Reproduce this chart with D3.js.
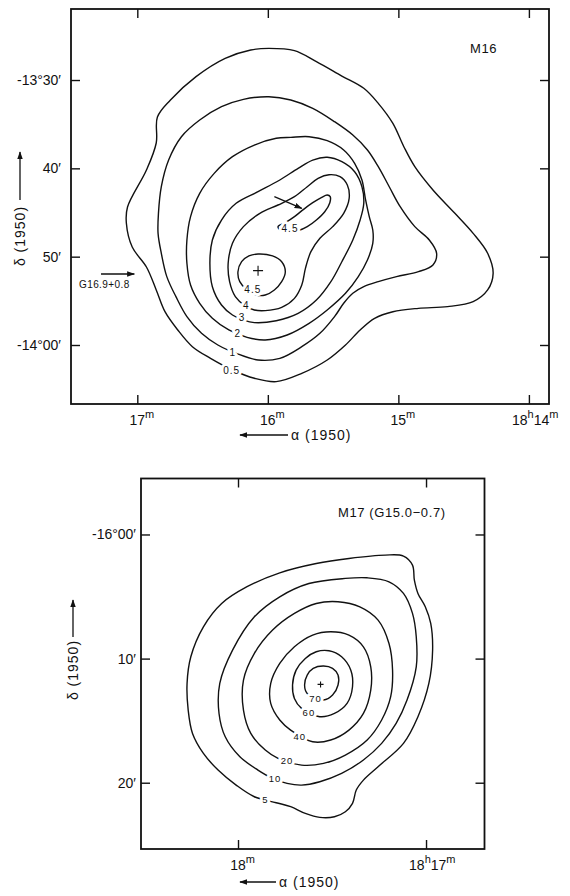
<!DOCTYPE html>
<html>
<head>
<meta charset="utf-8">
<script src="https://cdn.jsdelivr.net/npm/d3@7"></script>
<style>
  body { margin: 0; background: #fff; }
  svg { display: block; font-family: "Liberation Sans", Arial, sans-serif; }
  .frame { fill: none; stroke: #111; stroke-width: 1.8; }
  .contour { fill: none; stroke: #111; stroke-width: 1.4; }
  .tick line { stroke: #111; stroke-width: 1.4; }
  .domain { display: none; }
  .tick text { font-family: "Liberation Sans", Arial, sans-serif; font-size: 14px; fill: #111; }
  .clabel { font-size: 10px; fill: #111; stroke: #fff; stroke-width: 6; stroke-linejoin: round; paint-order: stroke; letter-spacing: 1px; }
  .title { font-size: 14px; fill: #111; letter-spacing: 1px; }
</style>
</head>
<body>
<div id="chart"></div>
<script>
// M16 map: RA in minutes of 18h, Dec in arcmin (-13°30' = -810)
const m16RaTicks = [17, 16, 15, 14];
const m16RaLabels = ["17m", "16m", "15m", "18h14m"];
const m16DecTicks = [-810, -820, -830, -840];
const m16DecLabels = ["-13°30′", "40′", "50′", "-14°00′"];

const m16Level05 = [[15.992,-806.42],[15.796,-806.68],[15.628,-807.92],[15.433,-809.55],[15.265,-810.94],[15.154,-812.64],[15.042,-814.91],[14.958,-817.55],[14.874,-819.81],[14.735,-822.45],[14.567,-825.09],[14.427,-827.36],[14.316,-829.62],[14.274,-831.89],[14.316,-833.77],[14.427,-835.09],[14.623,-835.66],[14.846,-835.85],[15.042,-836.23],[15.182,-836.98],[15.293,-838.30],[15.405,-840.00],[15.545,-841.70],[15.740,-843.21],[15.936,-844.15],[16.103,-843.77],[16.271,-842.83],[16.439,-841.51],[16.578,-840.19],[16.690,-838.30],[16.788,-836.23],[16.855,-833.77],[16.930,-831.17],[17.039,-828.91],[17.084,-826.19],[17.075,-824.38],[16.930,-820.19],[16.855,-817.13],[16.846,-814.19],[16.746,-812.26],[16.550,-809.62],[16.327,-807.55],[16.131,-806.60]];
const m16Level1 = [[15.992,-811.89],[15.824,-812.26],[15.656,-813.21],[15.489,-814.72],[15.349,-816.23],[15.237,-817.92],[15.154,-819.81],[15.070,-822.08],[14.986,-824.34],[14.874,-826.60],[14.763,-828.11],[14.707,-829.62],[14.735,-830.94],[14.846,-831.70],[15.014,-832.26],[15.154,-832.83],[15.265,-833.40],[15.349,-834.15],[15.419,-835.28],[15.489,-836.79],[15.601,-838.68],[15.740,-840.19],[15.908,-841.51],[16.075,-841.70],[16.243,-840.94],[16.383,-840.00],[16.508,-838.68],[16.620,-836.79],[16.704,-834.53],[16.774,-832.26],[16.816,-829.62],[16.841,-827.36],[16.838,-825.09],[16.816,-822.08],[16.760,-819.06],[16.662,-816.42],[16.522,-814.53],[16.355,-813.02],[16.187,-812.19]];
const m16Level2 = [[15.824,-816.49],[15.684,-816.42],[15.545,-816.87],[15.419,-817.92],[15.335,-819.43],[15.279,-821.32],[15.251,-823.58],[15.223,-825.47],[15.196,-826.98],[15.196,-828.49],[15.237,-830.38],[15.307,-832.26],[15.405,-834.15],[15.545,-836.04],[15.684,-837.55],[15.852,-838.87],[16.020,-839.43],[16.159,-839.13],[16.299,-838.30],[16.425,-836.98],[16.522,-835.28],[16.592,-833.21],[16.620,-830.75],[16.620,-828.11],[16.592,-825.47],[16.522,-822.83],[16.411,-820.57],[16.271,-818.68],[16.103,-817.36],[15.936,-816.60]];
const m16Level3 = [[16.103,-837.47],[15.936,-837.25],[15.768,-836.42],[15.628,-834.91],[15.517,-832.83],[15.433,-830.57],[15.349,-828.11],[15.293,-825.85],[15.265,-823.96],[15.279,-822.08],[15.335,-820.38],[15.433,-819.25],[15.545,-818.75],[15.656,-819.06],[15.768,-820.00],[15.908,-821.32],[16.075,-822.64],[16.243,-823.96],[16.355,-825.85],[16.425,-828.11],[16.444,-830.75],[16.425,-833.40],[16.355,-835.47],[16.271,-836.60],[16.187,-837.17]];
const m16Level4 = [[16.020,-836.11],[15.894,-835.74],[15.796,-834.72],[15.740,-833.21],[15.712,-831.32],[15.670,-829.43],[15.601,-827.92],[15.503,-826.60],[15.419,-825.09],[15.377,-823.40],[15.391,-821.89],[15.447,-820.94],[15.531,-820.72],[15.615,-821.13],[15.698,-822.08],[15.796,-823.21],[15.922,-824.15],[16.061,-825.09],[16.187,-826.60],[16.271,-828.49],[16.304,-830.75],[16.293,-832.83],[16.249,-834.53],[16.173,-835.58],[16.103,-836.04]];
const m16Level45a = [[15.922,-826.60],[15.866,-826.15],[15.796,-825.47],[15.726,-824.64],[15.656,-823.89],[15.587,-823.28],[15.545,-823.02],[15.522,-823.21],[15.525,-823.89],[15.564,-824.91],[15.628,-825.85],[15.698,-826.60],[15.768,-827.06],[15.838,-827.25],[15.894,-827.09]];
const m16Level45b = [[16.075,-829.70],[15.964,-829.92],[15.894,-830.57],[15.866,-831.70],[15.894,-832.83],[15.950,-833.77],[16.020,-834.34],[16.089,-834.34],[16.159,-833.77],[16.215,-832.83],[16.229,-831.70],[16.201,-830.57],[16.145,-829.92]];

const m16LabelText = ["0.5", "1", "2", "3", "4", "4.5", "4.5"];
const m16LabelPos = [[16.277,-842.91],[16.268,-840.87],[16.230,-838.68],[16.197,-836.91],[16.166,-835.58],[16.115,-833.70],[15.830,-826.85]];
const m16Peak = [16.075, -831.58];
const m16PeakArrow = [[15.950,-823.21],[15.740,-824.53]];
const g169Arrow = [[17.278,-831.96],[17.023,-831.96]];

// M17 map: Dec in arcmin (-16°00' = -960)
const m17RaTicks = [18, 17];
const m17RaLabels = ["18m", "18h17m"];
const m17DecTicks = [-960, -970, -980];
const m17DecLabels = ["-16°00′", "10′", "20′"];

const m17Level5 = [[17.217,-961.66],[17.120,-961.74],[17.072,-962.47],[17.062,-963.68],[17.043,-964.75],[17.004,-965.83],[16.975,-967.17],[16.965,-969.32],[16.985,-972.00],[17.043,-974.68],[17.120,-976.83],[17.255,-978.71],[17.333,-979.79],[17.371,-980.59],[17.391,-981.66],[17.429,-982.34],[17.487,-982.74],[17.565,-982.79],[17.642,-982.47],[17.720,-981.93],[17.797,-981.61],[17.913,-981.13],[18.010,-980.19],[18.106,-978.98],[18.184,-977.64],[18.242,-976.03],[18.265,-974.15],[18.271,-972.00],[18.251,-969.85],[18.184,-967.44],[18.087,-965.56],[17.952,-964.21],[17.778,-963.09],[17.584,-962.34],[17.410,-961.93]];
const m17Level10 = [[17.739,-980.05],[17.662,-980.19],[17.565,-979.92],[17.449,-979.25],[17.333,-978.17],[17.236,-976.83],[17.159,-975.22],[17.101,-973.34],[17.052,-970.66],[17.052,-968.24],[17.072,-966.36],[17.120,-964.75],[17.197,-963.81],[17.313,-963.49],[17.429,-963.54],[17.623,-963.95],[17.778,-965.02],[17.913,-966.63],[18.029,-969.32],[18.097,-972.00],[18.101,-974.42],[18.068,-976.30],[17.990,-977.91],[17.894,-978.98],[17.816,-979.65]];
const m17Level20 = [[17.662,-978.58],[17.545,-978.44],[17.429,-977.77],[17.313,-976.56],[17.236,-974.95],[17.188,-973.07],[17.178,-970.93],[17.197,-968.78],[17.255,-966.90],[17.352,-965.83],[17.468,-965.42],[17.584,-965.56],[17.700,-966.36],[17.816,-967.70],[17.913,-969.58],[17.971,-971.73],[17.971,-974.15],[17.932,-976.03],[17.855,-977.37],[17.787,-978.04]];
const m17Level40 = [[17.603,-976.70],[17.507,-976.56],[17.410,-975.76],[17.333,-974.42],[17.294,-972.54],[17.294,-970.66],[17.333,-969.05],[17.410,-968.11],[17.507,-967.84],[17.603,-968.11],[17.700,-969.05],[17.778,-970.39],[17.826,-972.00],[17.826,-973.61],[17.778,-974.95],[17.720,-975.76]];
const m17Level60 = [[17.565,-974.68],[17.487,-974.42],[17.420,-973.61],[17.391,-972.27],[17.400,-970.93],[17.449,-969.85],[17.516,-969.37],[17.584,-969.45],[17.642,-969.99],[17.691,-970.93],[17.710,-972.13],[17.700,-973.21],[17.662,-974.01]];
const m17Level70 = [[17.545,-973.34],[17.497,-972.94],[17.468,-972.13],[17.468,-971.33],[17.497,-970.79],[17.545,-970.60],[17.600,-970.79],[17.632,-971.33],[17.646,-972.13],[17.632,-972.81]];

const m17LabelText = ["5", "10", "20", "40", "60", "70"];
const m17LabelPos = [[17.855,-981.34],[17.803,-979.65],[17.739,-978.17],[17.671,-976.24],[17.623,-974.36],[17.588,-973.21]];
const m17Peak = [17.561, -972.08];

const svg = d3.select("#chart").append("svg")
    .attr("width", 570)
    .attr("height", 896);

svg.append("defs").append("marker")
    .attr("id", "head")
    .attr("viewBox", "0 0 10 10")
    .attr("refX", 9)
    .attr("refY", 5)
    .attr("markerWidth", 8)
    .attr("markerHeight", 8)
    .attr("markerUnits", "userSpaceOnUse")
    .attr("orient", "auto")
    .append("path")
    .attr("d", "M0,1.5 L10,5 L0,8.5 Z")
    .attr("fill", "#111");

function arrow(g, x1, y1, x2, y2) {
    g.append("line")
        .attr("x1", x1).attr("y1", y1)
        .attr("x2", x2).attr("y2", y2)
        .attr("stroke", "#111")
        .attr("stroke-width", 1.3)
        .attr("marker-end", "url(#head)");
}

function drawMap(cfg) {
    const x = d3.scaleLinear().domain(cfg.ra).range([cfg.left, cfg.right]);
    const y = d3.scaleLinear().domain(cfg.dec).range([cfg.top, cfg.bottom]);
    const g = svg.append("g");

    const line = d3.line()
        .x(d => x(d[0]))
        .y(d => y(d[1]))
        .curve(d3.curveCatmullRomClosed.alpha(0.5));

    g.selectAll("path.contour")
        .data(cfg.contours)
        .join("path")
        .attr("class", "contour")
        .attr("d", line);

    // ticks on all four sides, pointing inward
    const bottomAxis = g.append("g")
        .attr("transform", "translate(0," + cfg.bottom + ")")
        .call(d3.axisBottom(x).tickValues(cfg.raTicks).tickSizeInner(-9).tickSizeOuter(0).tickPadding(11));

    bottomAxis.selectAll(".tick text").each(function (d, i) {
        const label = cfg.raLabels[i];
        const hasH = label.includes("h");
        const t = d3.select(this).text(null)
            .attr("text-anchor", hasH ? "end" : "middle")
            .attr("dx", hasH ? 29 : 4);
        let raised = false;
        label.match(/\d+|[hm]/g).forEach(p => {
            const sup = /[hm]/.test(p);
            const s = t.append("tspan").text(p);
            if (sup) s.attr("font-size", 11).attr("dy", raised ? 0 : -7);
            else if (raised) s.attr("dy", 7);
            raised = sup;
        });
    });

    g.append("g")
        .attr("transform", "translate(0," + cfg.top + ")")
        .call(d3.axisTop(x).tickValues(cfg.raTicks).tickSizeInner(-9).tickSizeOuter(0).tickFormat(""));

    g.append("g")
        .attr("transform", "translate(" + cfg.left + ",0)")
        .call(d3.axisLeft(y).tickValues(cfg.decTicks).tickSizeInner(-9).tickSizeOuter(0)
            .tickPadding(cfg.decPad).tickFormat((d, i) => cfg.decLabels[i]));

    g.append("g")
        .attr("transform", "translate(" + cfg.right + ",0)")
        .call(d3.axisRight(y).tickValues(cfg.decTicks).tickSizeInner(-9).tickSizeOuter(0).tickFormat(""));

    g.append("rect")
        .attr("class", "frame")
        .attr("x", cfg.left)
        .attr("y", cfg.top)
        .attr("width", cfg.right - cfg.left)
        .attr("height", cfg.bottom - cfg.top);

    // contour labels with a white halo to break the line
    g.selectAll("text.clabel")
        .data(cfg.labelPos)
        .join("text")
        .attr("class", "clabel")
        .attr("x", d => x(d[0]))
        .attr("y", d => y(d[1]))
        .attr("text-anchor", "middle")
        .attr("dominant-baseline", "central")
        .style("font-size", cfg.labelSize + "px")
        .text((d, i) => cfg.labelText[i]);

    // peak position
    const px = x(cfg.peak[0]), py = y(cfg.peak[1]), c = cfg.cross;
    g.append("path")
        .attr("d", `M${px - c},${py}H${px + c}M${px},${py - c}V${py + c}`)
        .attr("stroke", "#111")
        .attr("stroke-width", 1.1);

    // axis titles
    arrow(g, cfg.raTitle[0], cfg.raTitle[2], cfg.raTitle[1], cfg.raTitle[2]);
    g.append("text")
        .attr("class", "title")
        .attr("x", cfg.raTitle[0] + 3)
        .attr("y", cfg.raTitle[2] + 5)
        .text("α (1950)");

    arrow(g, cfg.decTitle[0], cfg.decTitle[1], cfg.decTitle[0], cfg.decTitle[2]);
    g.append("text")
        .attr("class", "title")
        .attr("transform", "translate(" + (cfg.decTitle[0] + 5) + "," + cfg.decTitle[3] + ") rotate(-90)")
        .attr("text-anchor", "middle")
        .text("δ (1950)");

    g.append("text")
        .attr("class", "title")
        .attr("x", cfg.name[1])
        .attr("y", cfg.name[2])
        .style("font-size", "13px")
        .style("letter-spacing", "0.6px")
        .text(cfg.name[0]);

    return { g, x, y };
}

const top16 = drawMap({
    ra: [17.508, 13.846], dec: [-801.96, -846.68],
    left: 71, right: 549, top: 9, bottom: 404,
    raTicks: m16RaTicks, raLabels: m16RaLabels,
    decTicks: m16DecTicks, decLabels: m16DecLabels, decPad: 10,
    contours: [m16Level05, m16Level1, m16Level2, m16Level3, m16Level4, m16Level45a, m16Level45b],
    labelText: m16LabelText, labelPos: m16LabelPos, labelSize: 10,
    peak: m16Peak, cross: 5,
    raTitle: [288, 240, 435], decTitle: [20, 200, 152, 236],
    name: ["M16", 470, 53]
});

// arrow to the secondary peak and to G16.9+0.8
arrow(top16.g,
    top16.x(m16PeakArrow[0][0]), top16.y(m16PeakArrow[0][1]),
    top16.x(m16PeakArrow[1][0]), top16.y(m16PeakArrow[1][1]));
arrow(top16.g,
    top16.x(g169Arrow[0][0]), top16.y(g169Arrow[0][1]),
    top16.x(g169Arrow[1][0]), top16.y(g169Arrow[1][1]));
top16.g.append("text")
    .attr("x", top16.x(g169Arrow[0][0]) - 22)
    .attr("y", top16.y(g169Arrow[0][1]) + 14)
    .attr("fill", "#111")
    .style("font-size", "10px")
    .style("letter-spacing", "0.4px")
    .text("G16.9+0.8");

drawMap({
    ra: [18.516, 16.689], dec: [-955.49, -985.34],
    left: 141, right: 484.5, top: 478.5, bottom: 849,
    raTicks: m17RaTicks, raLabels: m17RaLabels,
    decTicks: m17DecTicks, decLabels: m17DecLabels, decPad: 5,
    contours: [m17Level5, m17Level10, m17Level20, m17Level40, m17Level60, m17Level70],
    labelText: m17LabelText, labelPos: m17LabelPos, labelSize: 9.5,
    peak: m17Peak, cross: 3,
    raTitle: [276, 240, 882], decTitle: [73, 637, 600, 670],
    name: ["M17 (G15.0−0.7)", 338, 517]
});
</script>
</body>
</html>
